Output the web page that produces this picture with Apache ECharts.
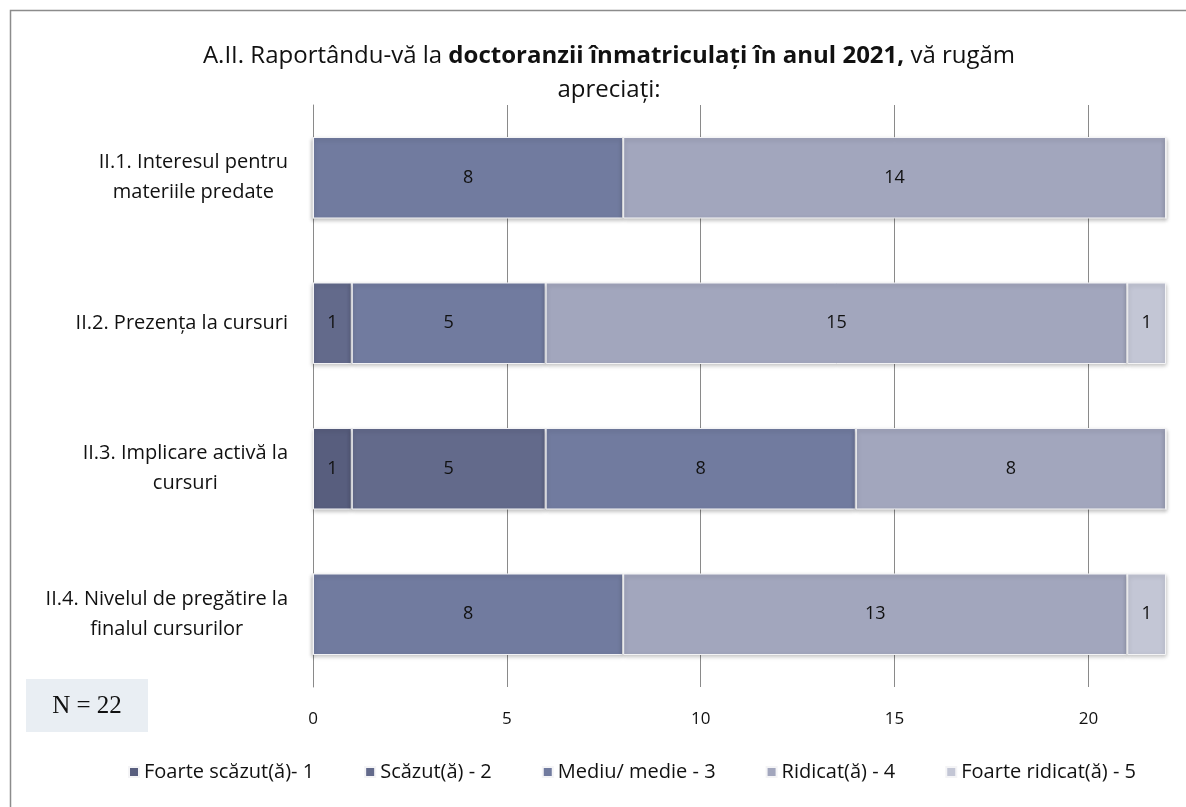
<!DOCTYPE html>
<html>
<head>
<meta charset="utf-8">
<script src="https://cdn.jsdelivr.net/npm/echarts@6/dist/echarts.min.js"></script>
<style>
  html, body { margin: 0; padding: 0; background: #fff; }
  #chart { width: 1186px; height: 807px; }
</style>
</head>
<body>
<div id="chart"></div>
<script>
  // categorii (de sus in jos)
  const categories = [
    'II.1. Interesul pentru\nmateriile predate',
    'II.2. Prezența la cursuri',
    'II.3. Implicare activă la\ncursuri',
    'II.4. Nivelul de pregătire la\nfinalul cursurilor'
  ];
  const seriesNames = ['Foarte scăzut(ă)- 1', 'Scăzut(ă) - 2', 'Mediu/ medie - 3', 'Ridicat(ă) - 4', 'Foarte ridicat(ă) - 5'];
  const foarteScazut = [0, 0, 1, 0];
  const scazut = [0, 1, 5, 0];
  const mediu = [8, 5, 8, 8];
  const ridicat = [14, 15, 8, 13];
  const foarteRidicat = [0, 1, 0, 1];
  const colors = ['#585e7e', '#636a8b', '#717b9f', '#a2a6bd', '#c3c6d5'];

  const font = '"Open Sans", sans-serif';
  const values = [foarteScazut, scazut, mediu, ridicat, foarteRidicat];

  const chart = echarts.init(document.getElementById('chart'));

  const series = values.map((data, i) => ({
    name: seriesNames[i],
    type: 'bar',
    stack: 'total',
    barWidth: '56%',
    data: data,
    itemStyle: {
      color: colors[i],
      borderColor: '#f4f4f6',
      borderWidth: 1,
      shadowColor: 'rgba(0,0,0,0.25)',
      shadowBlur: 4,
      shadowOffsetY: 2
    },
    label: {
      show: true,
      position: 'inside',
      color: '#111',
      fontFamily: font,
      fontSize: 18,
      formatter: p => (p.value ? p.value : '')
    }
  }));

  chart.setOption({
    animation: false,
    color: colors,
    title: {
      left: 604,
      top: 34,
      textAlign: 'center',
      text: '{n|A.II. Raportându-vă la }{b|doctoranzii înmatriculați în anul 2021,}{n| vă rugăm}\n{n|apreciați:}',
      textStyle: {
        fontWeight: 'normal',
        rich: {
          n: { fontFamily: font, fontSize: 24, fontWeight: 'normal', color: '#111', lineHeight: 34 },
          b: { fontFamily: font, fontSize: 24, fontWeight: 'bold', color: '#111', lineHeight: 34 }
        }
      }
    },
    legend: {
      top: 757,
      left: 123,
      icon: 'rect',
      itemWidth: 10,
      itemHeight: 10,
      itemGap: 50,
      data: seriesNames,
      textStyle: { fontFamily: font, fontSize: 20, color: '#111' }
    },
    grid: { left: 313, right: 20, top: 105, bottom: 120 },
    xAxis: {
      type: 'value',
      min: 0,
      max: 22,
      interval: 5,
      axisLine: { show: false },
      axisTick: { show: false },
      splitLine: { show: true, showMinLine: false, showMaxLine: false, lineStyle: { color: '#8a8a8a', width: 1 } },
      axisLabel: {
        margin: 24,
        fontFamily: font,
        fontSize: 17,
        color: '#111',
        showMaxLabel: false
      }
    },
    yAxis: {
      type: 'category',
      inverse: true,
      data: categories,
      axisLine: { show: true, lineStyle: { color: '#8a8a8a', width: 1 } },
      axisTick: { show: false },
      axisLabel: {
        margin: 25,
        fontFamily: font,
        fontSize: 20,
        color: '#111',
        lineHeight: 30,
        formatter: v => v.split('\n').map(s => '{c|' + s + '}').join('\n'),
        rich: {
          c: { align: 'center', fontFamily: font, fontSize: 20, color: '#111', lineHeight: 30 }
        }
      }
    },
    graphic: [
      {
        type: 'rect',
        shape: { x: 10.5, y: 10.5, width: 1200, height: 820 },
        style: { fill: 'none', stroke: '#8c8c8c', lineWidth: 1.5 },
        silent: true
      },
      {
        type: 'rect',
        shape: { x: 26, y: 679, width: 122, height: 53 },
        style: { fill: '#e9eef3' },
        silent: true
      },
      {
        type: 'text',
        x: 87,
        y: 706,
        style: {
          text: 'N = 22',
          fill: '#111',
          font: '25px "Liberation Serif", serif',
          align: 'center',
          verticalAlign: 'middle'
        },
        silent: true
      }
    ],
    series: series
  });
</script>
</body>
</html>
